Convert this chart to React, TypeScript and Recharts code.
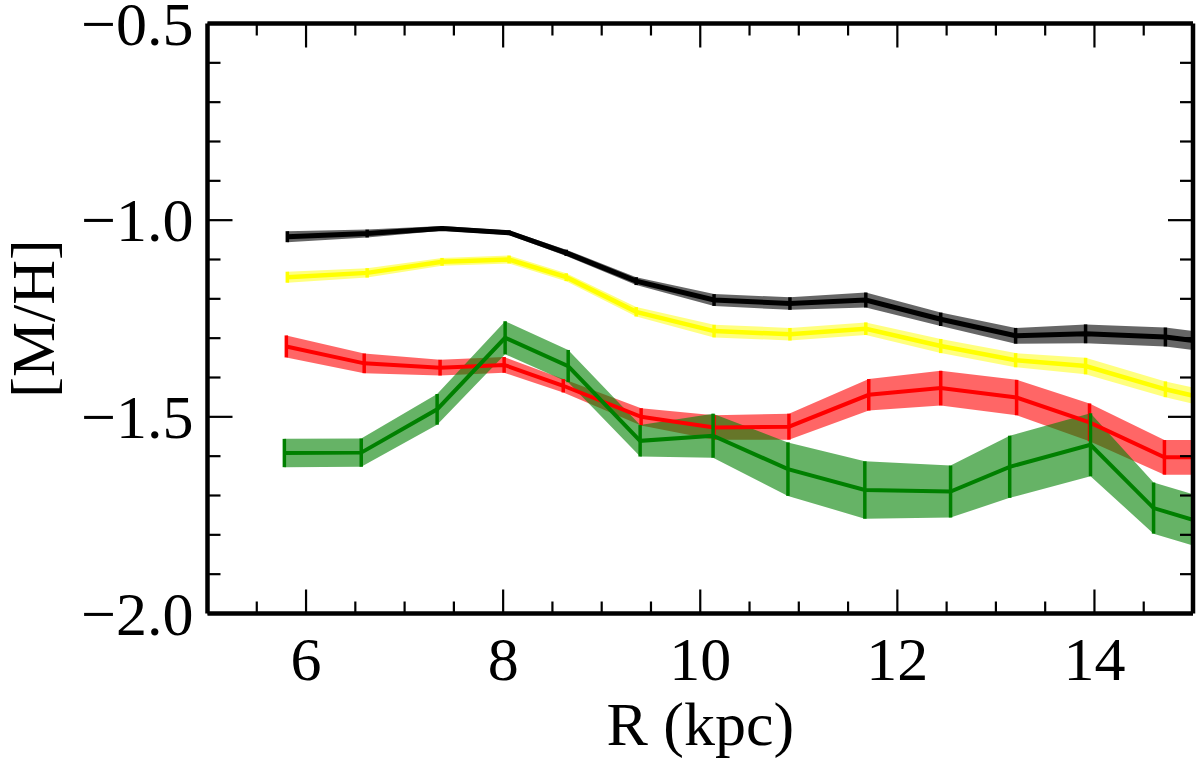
import { Area, ComposedChart, ErrorBar, Label, Line, XAxis, YAxis } from 'recharts';

// radius bins (kpc) for each population
const rBlack = [5.81, 6.62, 7.38, 8.06, 8.64, 9.35, 10.14, 10.91, 11.68, 12.44, 13.2, 13.91, 14.72, 15.5];
const mhBlack = [-1.042, -1.034, -1.021, -1.032, -1.083, -1.155, -1.203, -1.212, -1.203, -1.252, -1.294, -1.289, -1.297, -1.322];
const errBlack = [0.014, 0.01, 0.006, 0.006, 0.008, 0.01, 0.015, 0.016, 0.019, 0.017, 0.02, 0.024, 0.024, 0.025];

const rYellow = rBlack;
const mhYellow = [-1.145, -1.134, -1.106, -1.1, -1.145, -1.233, -1.282, -1.29, -1.276, -1.32, -1.356, -1.371, -1.43, -1.475];
const errYellow = [0.014, 0.012, 0.01, 0.01, 0.01, 0.012, 0.016, 0.016, 0.016, 0.018, 0.018, 0.021, 0.02, 0.022];

const rRed = [5.8, 6.59, 7.36, 8.01, 8.61, 9.4, 10.14, 10.9, 11.71, 12.44, 13.21, 13.95, 14.71, 15.5];
const mhRed = [-1.321, -1.364, -1.375, -1.368, -1.421, -1.5, -1.527, -1.525, -1.444, -1.427, -1.451, -1.514, -1.603, -1.603];
const errRed = [0.028, 0.025, 0.02, 0.02, 0.017, 0.022, 0.031, 0.033, 0.04, 0.044, 0.045, 0.048, 0.044, 0.044];

const rGreen = [5.78, 6.56, 7.33, 8.02, 8.66, 9.39, 10.13, 10.89, 11.67, 12.54, 13.14, 13.96, 14.6, 15.4];
const mhGreen = [-1.592, -1.591, -1.481, -1.299, -1.371, -1.561, -1.548, -1.633, -1.686, -1.69, -1.627, -1.571, -1.732, -1.792];
const errGreen = [0.036, 0.036, 0.039, 0.042, 0.041, 0.04, 0.056, 0.068, 0.073, 0.066, 0.079, 0.08, 0.065, 0.065];

const xMajor = [6, 8, 10, 12, 14];
const xTicks = [5.5, 6, 6.5, 7, 7.5, 8, 8.5, 9, 9.5, 10, 10.5, 11, 11.5, 12, 12.5, 13, 13.5, 14, 14.5];
const yMajor = [-2, -1.5, -1, -0.5];
const yTicks = [-2, -1.9, -1.8, -1.7, -1.6, -1.5, -1.4, -1.3, -1.2, -1.1, -1, -0.9, -0.8, -0.7, -0.6, -0.5];

const FONT = '"Liberation Serif", "DejaVu Serif", serif';
const FS = 62;

function build(xs: number[], vals: number[], errs: number[]) {
  return xs.map((x, i) => ({ x, mh: vals[i], err: errs[i], band: [vals[i] - errs[i], vals[i] + errs[i]] }));
}

const series = [
  { key: 'black', data: build(rBlack, mhBlack, errBlack), line: '#000000', fill: '#000000', op: 0.6, w: 5 },
  { key: 'yellow', data: build(rYellow, mhYellow, errYellow), line: '#ffff00', fill: '#ffff00', op: 0.5, w: 4.5 },
  { key: 'red', data: build(rRed, mhRed, errRed), line: '#ff0000', fill: '#ff0000', op: 0.6, w: 4 },
  { key: 'green', data: build(rGreen, mhGreen, errGreen), line: '#008000', fill: '#008000', op: 0.6, w: 4 },
];

const isMajor = (list: number[], v: number) => list.some((m) => Math.abs(m - v) < 1e-6);
const fmt = (v: number) => v.toFixed(1).replace('-', '\u2212');

function XTick({ x, y, payload, top }: any) {
  const len = isMajor(xMajor, payload.value) ? 24 : 12;
  const dir = top ? 1 : -1;
  return (
    <g>
      <line x1={x} x2={x} y1={y} y2={y + dir * len} stroke="#000" strokeWidth={2.2} />
      {!top && isMajor(xMajor, payload.value) && (
        <text x={x} y={y + 66} textAnchor="middle" fontSize={FS} fontFamily={FONT} fill="#000">
          {payload.value}
        </text>
      )}
    </g>
  );
}

function YTick({ x, y, payload, right }: any) {
  const major = isMajor(yMajor, payload.value);
  const len = major ? 25 : 13;
  const dir = right ? -1 : 1;
  return (
    <g>
      <line x1={x} x2={x + dir * len} y1={y} y2={y} stroke="#000" strokeWidth={2.2} />
      {!right && major && (
        <text x={x - 14} y={y} dy="0.34em" textAnchor="end" fontSize={FS} fontFamily={FONT} fill="#000">
          {fmt(payload.value)}
        </text>
      )}
    </g>
  );
}

export default function App() {
  const axisLine = { stroke: '#000', strokeWidth: 4.5 };
  return (
    <div style={{ width: 1200, height: 762, background: '#fff' }}>
      <style>{'body{margin:0}'}</style>
      <ComposedChart width={1200} height={762} margin={{ top: 22.5, right: 6, left: 0, bottom: 0 }}>
        <XAxis
          dataKey="x"
          type="number"
          domain={[5, 15]}
          allowDataOverflow
          ticks={xTicks}
          interval={0}
          height={148.5}
          tickSize={0}
          tickMargin={0}
          tickLine={false}
          axisLine={axisLine}
          tick={(p: any) => <XTick {...p} />}
        >
          <Label
            content={({ viewBox }: any) => (
              <text
                x={viewBox.x + viewBox.width / 2}
                y={viewBox.y + 131}
                textAnchor="middle"
                fontSize={FS}
                fontFamily={FONT}
                fill="#000"
              >
                R (kpc)
              </text>
            )}
          />
        </XAxis>
        <XAxis
          xAxisId="top"
          orientation="top"
          dataKey="x"
          type="number"
          domain={[5, 15]}
          allowDataOverflow
          ticks={xTicks}
          interval={0}
          height={1}
          tickSize={0}
          tickMargin={0}
          tickLine={false}
          axisLine={axisLine}
          tick={(p: any) => <XTick {...p} top />}
        />
        <YAxis
          type="number"
          domain={[-2, -0.5]}
          allowDataOverflow
          ticks={yTicks}
          interval={0}
          width={207.5}
          tickSize={0}
          tickMargin={0}
          tickLine={false}
          axisLine={axisLine}
          tick={(p: any) => <YTick {...p} />}
        >
          <Label
            content={({ viewBox }: any) => {
              const cx = viewBox.x + 32;
              const cy = viewBox.y + viewBox.height / 2;
              return (
                <text
                  x={cx}
                  y={cy}
                  dy="0.35em"
                  textAnchor="middle"
                  transform={`rotate(-90 ${cx} ${cy})`}
                  fontSize={FS}
                  fontFamily={FONT}
                  fill="#000"
                >
                  [M/H]
                </text>
              );
            }}
          />
        </YAxis>
        <YAxis
          yAxisId="right"
          orientation="right"
          type="number"
          domain={[-2, -0.5]}
          allowDataOverflow
          ticks={yTicks}
          interval={0}
          width={1}
          tickSize={0}
          tickMargin={0}
          tickLine={false}
          axisLine={axisLine}
          tick={(p: any) => <YTick {...p} right />}
        />
        {/* empty series so the mirrored frame axes get drawn */}
        <Line xAxisId="top" yAxisId="right" data={[]} dataKey="mh" stroke="none" dot={false} isAnimationActive={false} />
        {series.flatMap((s) => [
          <Area
            key={s.key + '-band'}
            data={s.data}
            dataKey="band"
            type="linear"
            stroke="none"
            fill={s.fill}
            fillOpacity={s.op}
            dot={false}
            activeDot={false}
            isAnimationActive={false}
          />,
          <Line
            key={s.key + '-line'}
            data={s.data}
            dataKey="mh"
            type="linear"
            stroke={s.line}
            strokeWidth={s.w}
            dot={false}
            activeDot={false}
            isAnimationActive={false}
          >
            <ErrorBar dataKey="err" direction="y" width={0} stroke={s.line} strokeWidth={3.5} />
          </Line>,
        ])}
      </ComposedChart>
    </div>
  );
}
